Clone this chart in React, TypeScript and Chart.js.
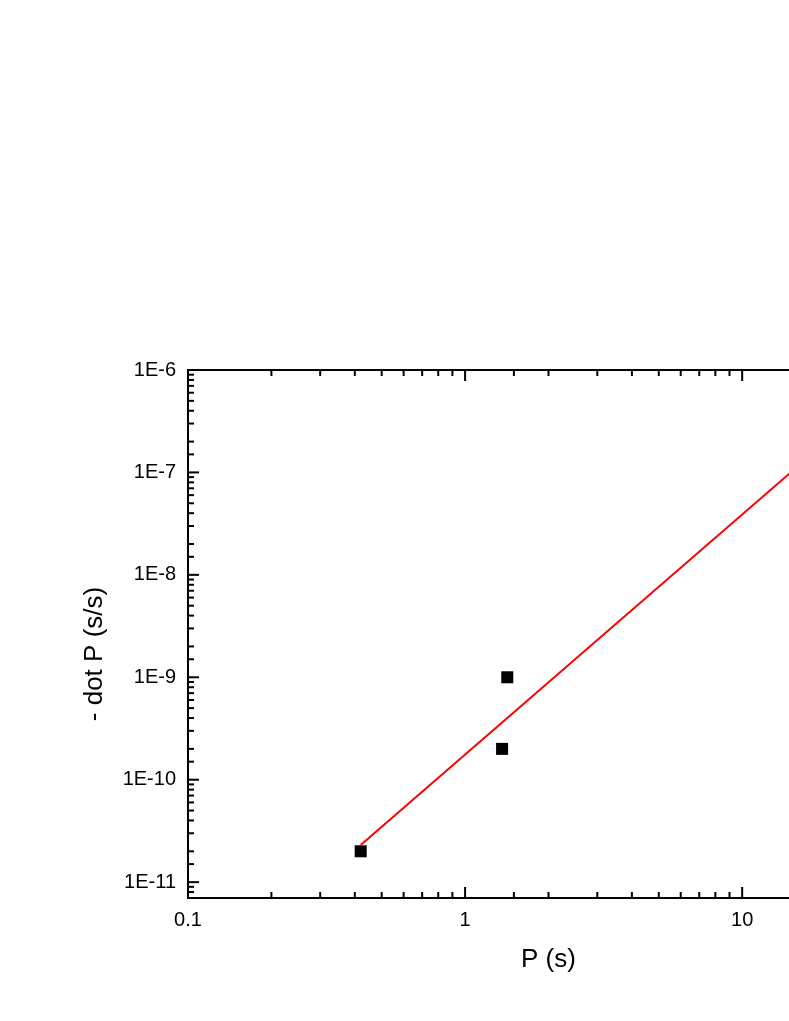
import React, { useEffect, useRef } from 'react';
import { Chart, registerables } from 'chart.js';

Chart.register(...registerables);

// Data
const periodS = [0.42, 1.42, 1.36];
const pdot = [2.0e-11, 1.0e-9, 2.0e-10];
const fitX = [0.42, 40];
const fitY = [2.3e-11, 1.0e-6];
const xMin = 0.1;
const xMax = 40;
const yMin = 7e-12;
const yMax = 1e-6;
const xTitle = 'P (s)';
const yTitle = '- dot P (s/s)';

const FONT = '"Liberation Sans", Arial, sans-serif';

const isMajor = (v: number) => {
  const l = Math.log10(v);
  return Math.abs(l - Math.round(l)) < 1e-6;
};

const framePlugin = {
  id: 'frame',
  afterDatasetsDraw(chart: any) {
    const { ctx, chartArea: a, scales } = chart;
    ctx.save();
    ctx.strokeStyle = '#000';
    ctx.lineWidth = 2;
    ctx.strokeRect(a.left, a.top, a.right - a.left, a.bottom - a.top);
    const line = (x1: number, y1: number, x2: number, y2: number) => {
      ctx.beginPath();
      ctx.moveTo(x1, y1);
      ctx.lineTo(x2, y2);
      ctx.stroke();
    };
    scales.x.ticks.forEach((t: any) => {
      const px = scales.x.getPixelForValue(t.value);
      if (px < a.left - 0.5 || px > a.right + 0.5) return;
      const len = isMajor(t.value) ? 11 : 6;
      line(px, a.bottom, px, a.bottom - len);
      line(px, a.top, px, a.top + len);
    });
    scales.y.ticks.forEach((t: any) => {
      const py = scales.y.getPixelForValue(t.value);
      if (py < a.top - 0.5 || py > a.bottom + 0.5) return;
      const len = isMajor(t.value) ? 11 : 6;
      line(a.left, py, a.left + len, py);
      line(a.right, py, a.right - len, py);
    });
    // axis titles
    ctx.fillStyle = '#000';
    ctx.font = `26px ${FONT}`;
    ctx.textAlign = 'center';
    ctx.textBaseline = 'alphabetic';
    ctx.fillText(xTitle, (a.left + a.right) / 2, a.bottom + 69);
    ctx.save();
    ctx.translate(a.left - 86, (a.top + a.bottom) / 2 + 20);
    ctx.rotate(-Math.PI / 2);
    ctx.fillText(yTitle, 0, 0);
    ctx.restore();
    ctx.restore();
  },
};

export default function App() {
  const ref = useRef<HTMLCanvasElement>(null);

  useEffect(() => {
    if (!ref.current) return;
    const scatterData = periodS.map((x, i) => ({ x, y: pdot[i] }));
    const fitData = fitX.map((x, i) => ({ x, y: fitY[i] }));
    const chart = new Chart(ref.current, {
      type: 'scatter',
      data: {
        datasets: [
          {
            type: 'line',
            data: fitData,
            borderColor: '#ff0000',
            borderWidth: 2,
            pointRadius: 0,
            showLine: true,
            fill: false,
          } as any,
          {
            data: scatterData,
            pointStyle: 'rect',
            pointRadius: 8.5,
            backgroundColor: '#000',
            borderWidth: 0,
          },
        ],
      },
      options: {
        animation: false,
        responsive: false,
        layout: { padding: { top: 370, right: 91, left: 0, bottom: 0 } },
        plugins: { legend: { display: false }, tooltip: { enabled: false } },
        scales: {
          x: {
            type: 'logarithmic',
            min: xMin,
            max: xMax,
            grid: { display: false, drawTicks: false },
            border: { display: false },
            afterFit: (s: any) => {
              s.height = 123;
            },
            ticks: {
              autoSkip: false,
              maxRotation: 0,
              padding: 10,
              color: '#000',
              font: { family: FONT, size: 20 },
              callback: (v: any) => {
                const n = Number(v);
                if (!isMajor(n)) return '';
                const e = Math.round(Math.log10(n));
                return String(Number(Math.pow(10, e).toPrecision(1)));
              },
            },
          },
          y: {
            type: 'logarithmic',
            min: yMin,
            max: yMax,
            grid: { display: false, drawTicks: false },
            border: { display: false },
            afterFit: (s: any) => {
              s.width = 188;
            },
            ticks: {
              autoSkip: false,
              padding: 12,
              color: '#000',
              font: { family: FONT, size: 20 },
              callback: (v: any) => {
                const n = Number(v);
                if (!isMajor(n)) return '';
                const e = Math.round(Math.log10(n));
                return '1E' + e;
              },
            },
          },
        },
      },
      plugins: [framePlugin],
    });
    return () => chart.destroy();
  }, []);

  return (
    <div
      style={{
        position: 'fixed',
        left: 0,
        top: 0,
        width: 789,
        height: 1021,
        overflow: 'hidden',
        background: '#fff',
      }}
    >
      <canvas ref={ref} width={1000} height={1021} style={{ display: 'block' }} />
    </div>
  );
}
